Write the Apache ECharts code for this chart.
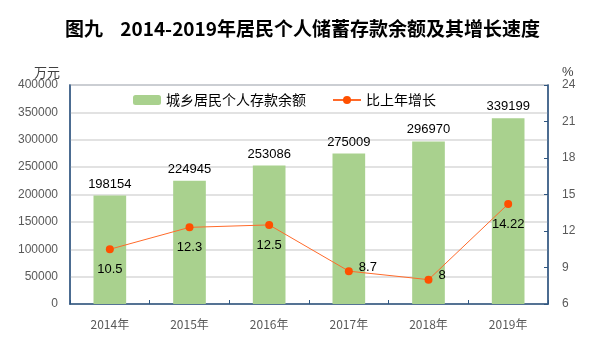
<!DOCTYPE html>
<html>
<head>
<meta charset="utf-8">
<script src="https://cdn.jsdelivr.net/npm/echarts@6/dist/echarts.min.js"></script>
<style>
  html, body { margin: 0; padding: 0; background: #fff; }
  #myChart { width: 605px; height: 351px; }
</style>
</head>
<body>
<div id="myChart"></div>
<script>
const years = ['2014年', '2015年', '2016年', '2017年', '2018年', '2019年'];
const deposits = [198154, 224945, 253086, 275009, 296970, 339199];
const growth = [10.5, 12.3, 12.5, 8.7, 8, 14.22];
const growthLabelPos = ['bottom', 'bottom', 'bottom', 'right', 'right', 'bottom'];

const numFont = '"Liberation Sans", Arial, "Noto Sans CJK SC", sans-serif';
const cjkFont = '"Noto Sans CJK SC", "Liberation Sans", sans-serif';

let myChart = echarts.init(document.getElementById('myChart'));
let option = {
    animation: false,
    title: {
        text: '图九    2014-2019年居民个人储蓄存款余额及其增长速度',
        left: 'center',
        top: 14,
        textStyle: { fontSize: 19, fontWeight: 'bold', color: '#000', fontFamily: cjkFont }
    },
    legend: {
        left: 128,
        top: 88,
        itemWidth: 28,
        itemHeight: 10,
        itemGap: 26,
        textStyle: { fontSize: 14, color: '#000', fontFamily: cjkFont },
        data: ['城乡居民个人存款余额', '比上年增长']
    },
    grid: {
        left: 70, right: 57, top: 85, bottom: 47,
        show: true, borderColor: '#8497b0', borderWidth: 1.5
    },
    xAxis: {
        type: 'category',
        data: years,
        axisLine: { lineStyle: { color: '#2f5680', width: 1.5 } },
        axisTick: { show: true, inside: true, length: 4, lineStyle: { color: '#2f5680' } },
        axisLabel: { fontSize: 12, color: '#595959', margin: 14, fontFamily: cjkFont }
    },
    yAxis: [
        {
            type: 'value',
            min: 0, max: 400000, interval: 50000,
            name: '万元',
            nameGap: 6,
            nameTextStyle: { fontSize: 13, color: '#404040', align: 'right', padding: [0, 10, 0, 0], fontFamily: cjkFont },
            axisLine: { show: true, lineStyle: { color: '#2f5680', width: 1.5 } },
            axisTick: { show: false },
            axisLabel: { fontSize: 12, color: '#595959', margin: 12, fontFamily: numFont, formatter: v => String(v) },
            splitLine: { lineStyle: { color: '#d9d9d9', width: 1.5 } }
        },
        {
            type: 'value',
            min: 6, max: 24, interval: 3,
            name: '%',
            nameGap: 4,
            nameTextStyle: { fontSize: 13, color: '#404040', align: 'left', padding: [0, 0, 0, 14], fontFamily: numFont },
            axisLine: { show: true, lineStyle: { color: '#2f5680', width: 1.5 } },
            axisTick: { show: true, inside: true, length: 4, lineStyle: { color: '#2f5680' } },
            axisLabel: { fontSize: 12, color: '#595959', margin: 14, fontFamily: numFont },
            splitLine: { show: false }
        }
    ],
    series: [
        {
            name: '城乡居民个人存款余额',
            type: 'bar',
            barWidth: '41%',
            itemStyle: { color: '#a9d18e' },
            label: { show: true, position: 'top', distance: 5, fontSize: 13, color: '#000', fontFamily: numFont },
            data: deposits
        },
        {
            name: '比上年增长',
            type: 'line',
            yAxisIndex: 1,
            symbol: 'circle',
            symbolSize: 8,
            lineStyle: { color: '#ff6a2a', width: 1 },
            itemStyle: { color: '#ff5000' },
            data: growth.map((v, i) => ({
                value: v,
                label: {
                    show: true,
                    position: growthLabelPos[i],
                    distance: growthLabelPos[i] === 'bottom' ? 10 : 6,
                    offset: growthLabelPos[i] === 'right' ? [0, -4] : [0, 0],
                    fontSize: 13,
                    color: '#000',
                    fontFamily: numFont
                }
            }))
        }
    ]
};
myChart.setOption(option);
</script>
</body>
</html>
